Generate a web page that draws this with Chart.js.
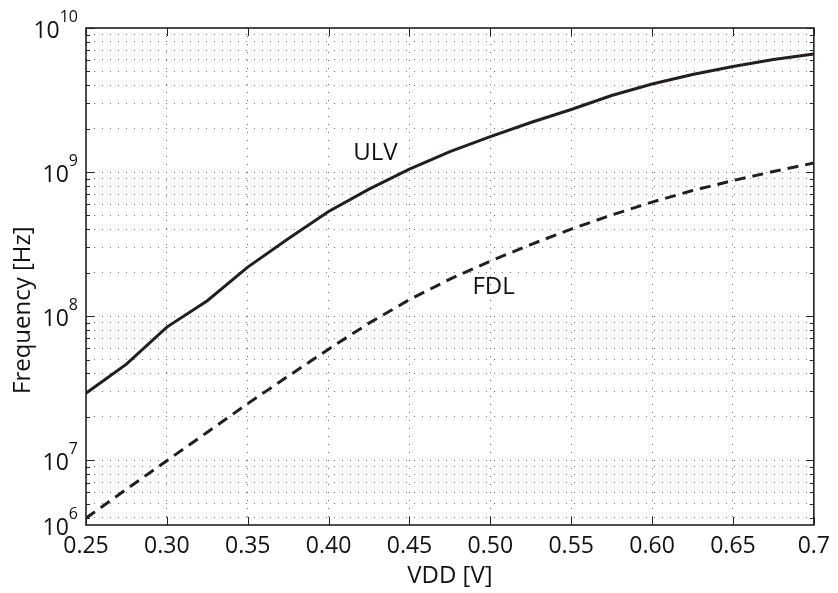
<!DOCTYPE html>
<html lang="fr">
<head>
<meta charset="utf-8">
<script src="https://cdn.jsdelivr.net/npm/chart.js@4/dist/chart.umd.min.js"></script>
<style>
  html, body { margin: 0; padding: 0; background: #ffffff; }
  #boite { width: 838px; height: 593px; }
</style>
</head>
<body>
<div id="boite"><canvas id="graphique"></canvas></div>
<script>
'use strict';

/* === DONNÉES === */
const TENSIONS = [0.25, 0.275, 0.30, 0.325, 0.35, 0.375, 0.40, 0.425, 0.45, 0.475,
  0.50, 0.525, 0.55, 0.575, 0.60, 0.625, 0.65, 0.675, 0.70];

const FREQ_ULV = [2.92e7, 4.64e7, 8.39e7, 1.28e8, 2.19e8, 3.45e8, 5.32e8, 7.62e8, 1.049e9, 1.388e9,
  1.764e9, 2.207e9, 2.72e9, 3.4e9, 4.085e9, 4.75e9, 5.4e9, 6.04e9, 6.6e9];

const FREQ_FDL = [3.96e6, 6.29e6, 9.92e6, 1.565e7, 2.47e7, 3.83e7, 5.9e7, 8.94e7, 1.302e8, 1.806e8,
  2.41e8, 3.14e8, 4.02e8, 5.03e8, 6.19e8, 7.44e8, 8.73e8, 1.008e9, 1.155e9];

const X_GRADUATIONS = [0.25, 0.30, 0.35, 0.40, 0.45, 0.50, 0.55, 0.60, 0.65, 0.70];
const X_ETIQUETTES = ['0.25', '0.30', '0.35', '0.40', '0.45', '0.50', '0.55', '0.60', '0.65', '0.7'];

const Y_MIN = 3.55e6;
const Y_MAX = 1e10;
const Y_DECADES = [Y_MIN, 1e7, 1e8, 1e9, 1e10];
const Y_EXPOSANTS = ['6', '7', '8', '9', '10'];
const Y_TITRE = 'Frequency [Hz]';
const Y_TITRE_CENTRE = 1.1e8;

const ANNOTATIONS = [
  { texte: 'ULV', x: 0.429, y: 1.35e9 },
  { texte: 'FDL', x: 0.502, y: 1.6e8 }
];

/* === HELPERS === */
const POLICE = '"Open Sans", "Noto Sans", sans-serif';

function graduationsLog() {
  const vals = [];
  for (let e = 6; e < 10; e++) {
    for (let m = 1; m < 10; m++) {
      const v = m * Math.pow(10, e);
      if (v >= Y_MIN) vals.push(v);
    }
  }
  vals.push(Y_MAX);
  return vals;
}

function points(serie) {
  return TENSIONS.map((x, i) => ({ x, y: serie[i] }));
}

/* === PLUGIN : cadre, graduations internes, étiquettes === */
const cadreMatlab = {
  id: 'cadreMatlab',
  afterDraw(chart) {
    const { ctx, chartArea: a, scales } = chart;
    const sx = scales.x;
    const sy = scales.y;
    ctx.save();
    ctx.strokeStyle = '#222';
    ctx.lineWidth = 1.6;
    ctx.strokeRect(a.left, a.top, a.right - a.left, a.bottom - a.top);

    // graduations vers l'intérieur
    ctx.lineWidth = 1;
    ctx.beginPath();
    X_GRADUATIONS.forEach(v => {
      const px = Math.round(sx.getPixelForValue(v)) + 0.5;
      ctx.moveTo(px, a.bottom); ctx.lineTo(px, a.bottom - 8);
      ctx.moveTo(px, a.top); ctx.lineTo(px, a.top + 8);
    });
    graduationsLog().forEach(v => {
      const py = Math.round(sy.getPixelForValue(v)) + 0.5;
      const long = Y_DECADES.includes(v) ? 8 : 4;
      ctx.moveTo(a.left, py); ctx.lineTo(a.left + long, py);
      ctx.moveTo(a.right, py); ctx.lineTo(a.right - long, py);
    });
    ctx.stroke();

    // étiquettes 10^n
    ctx.fillStyle = '#111';
    ctx.textBaseline = 'middle';
    Y_DECADES.forEach((v, i) => {
      const py = sy.getPixelForValue(v);
      ctx.font = '16px ' + POLICE;
      const lExp = ctx.measureText(Y_EXPOSANTS[i]).width;
      const xDroite = a.left - 8;
      ctx.textAlign = 'left';
      ctx.fillText(Y_EXPOSANTS[i], xDroite - lExp, py - 11);
      ctx.font = '23px ' + POLICE;
      ctx.textAlign = 'right';
      ctx.fillText('10', xDroite - lExp, py + 3);
    });

    // titre de l'axe y
    ctx.save();
    ctx.translate(23, sy.getPixelForValue(Y_TITRE_CENTRE));
    ctx.rotate(-Math.PI / 2);
    ctx.font = '24px ' + POLICE;
    ctx.textAlign = 'center';
    ctx.fillText(Y_TITRE, 0, 0);
    ctx.restore();

    // annotations des courbes
    ctx.font = '24px ' + POLICE;
    ctx.textAlign = 'center';
    ANNOTATIONS.forEach(n => {
      ctx.fillText(n.texte, sx.getPixelForValue(n.x), sy.getPixelForValue(n.y));
    });
    ctx.restore();
  }
};

/* === GRAPHIQUE === */
new Chart(document.getElementById('graphique'), {
  type: 'line',
  data: {
    datasets: [
      {
        label: 'ULV',
        data: points(FREQ_ULV),
        borderColor: '#231f20',
        borderWidth: 3,
        pointRadius: 0,
        tension: 0
      },
      {
        label: 'FDL',
        data: points(FREQ_FDL),
        borderColor: '#231f20',
        borderWidth: 3,
        borderDash: [11, 7],
        pointRadius: 0,
        tension: 0
      }
    ]
  },
  options: {
    responsive: true,
    maintainAspectRatio: false,
    animation: false,
    layout: { padding: { top: 28, right: 21, bottom: 0, left: 0 } },
    plugins: {
      legend: { display: false },
      tooltip: { enabled: false }
    },
    scales: {
      x: {
        type: 'linear',
        min: 0.25,
        max: 0.7,
        afterBuildTicks: s => { s.ticks = X_GRADUATIONS.map(v => ({ value: v })); },
        afterFit: s => { s.height = 68; },
        ticks: {
          autoSkip: false,
          maxRotation: 0,
          padding: 8,
          color: '#111',
          font: { family: POLICE, size: 23 },
          callback: (v, i) => X_ETIQUETTES[i]
        },
        grid: { color: '#6a6a6a', lineWidth: 1, drawTicks: false },
        border: { display: false, dash: [1, 7] },
        title: {
          display: true,
          text: 'VDD [V]',
          color: '#111',
          font: { family: POLICE, size: 24 },
          padding: { top: 0, bottom: 2 }
        }
      },
      y: {
        type: 'logarithmic',
        min: Y_MIN,
        max: Y_MAX,
        afterBuildTicks: s => { s.ticks = graduationsLog().map(v => ({ value: v })); },
        afterFit: s => { s.width = 86; },
        ticks: { display: false },
        grid: { color: '#6a6a6a', lineWidth: 1, drawTicks: false },
        border: { display: false, dash: [1, 7] },
        title: { display: false }
      }
    }
  },
  plugins: [cadreMatlab]
});
</script>
</body>
</html>
